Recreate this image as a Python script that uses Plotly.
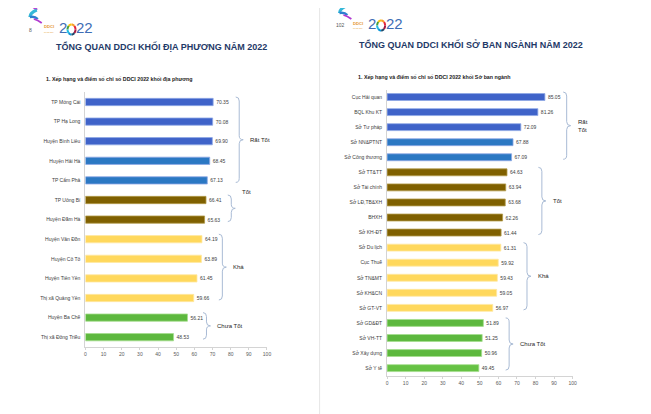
import math
import plotly.graph_objects as go

W, H = 651, 414
OX, OY = 8, 8  # page body margin of the html page

# ---------------- DATA ----------------
left_names = ["TP Móng Cái", "TP Hạ Long", "Huyện Bình Liêu", "Huyện Hải Hà", "TP Cẩm Phả",
              "TP Uông Bí", "Huyện Đầm Hà",
              "Huyện Vân Đồn", "Huyện Cô Tô", "Huyện Tiên Yên", "Thị xã Quảng Yên",
              "Huyện Ba Chẽ", "Thị xã Đông Triều"]
left_scores = [70.35, 70.08, 69.90, 68.45, 67.13, 66.41, 65.63, 64.19, 63.89, 61.45, 59.66, 56.21, 48.53]
left_groups = ["Rất Tốt"] * 5 + ["Tốt"] * 2 + ["Khá"] * 4 + ["Chưa Tốt"] * 2

right_names = ["Cục Hải quan", "BQL Khu KT", "Sở Tư pháp", "Sở NN&PTNT", "Sở Công thương",
               "Sở TT&TT", "Sở Tài chính", "Sở LĐ,TB&XH", "BHXH", "Sở KH-ĐT",
               "Sở Du lịch", "Cục Thuế", "Sở TN&MT", "Sở KH&CN", "Sở GT-VT",
               "Sở GD&ĐT", "Sở VH-TT", "Sở Xây dựng", "Sở Y tế"]
right_scores = [85.05, 81.26, 72.09, 67.88, 67.09, 64.63, 63.94, 63.68, 62.26, 61.44,
                61.31, 59.92, 59.43, 59.05, 56.97, 51.89, 51.25, 50.96, 49.45]
right_groups = ["Rất Tốt"] * 5 + ["Tốt"] * 5 + ["Khá"] * 5 + ["Chưa Tốt"] * 4

group_order = ["Rất Tốt", "Tốt", "Khá", "Chưa Tốt"]
x_ticks = list(range(0, 101, 10))

left_title = "TỔNG QUAN DDCI KHỐI ĐỊA PHƯƠNG NĂM 2022"
left_subtitle = "1. Xếp hạng và điểm số chỉ số DDCI 2022 khối địa phương"
right_title = "TỔNG QUAN DDCI KHỐI SỞ BAN NGÀNH NĂM 2022"
right_subtitle = "1. Xếp hạng và điểm số chỉ số DDCI 2022 khối Sở ban ngành"
left_page = "8"
right_page = "102"

# ---------------- STYLE ----------------
FONT = "Arial, Liberation Sans, sans-serif"
group_colors = {"Rất Tốt": ("#3F63C9", "#2B78C3"), "Tốt": ("#7F6000", "#7F6000"),
                "Khá": ("#FFD85C", "#FFD85C"), "Chưa Tốt": ("#5DB83E", "#66C244")}
edge_colors = {"Rất Tốt": "#8FA8E6", "Tốt": "#B29B4A", "Khá": "#FFE9A3", "Chưa Tốt": "#A6DE8E"}
BRACE_COL = "#A9BBD5"
TITLE_COL = "#1F3A68"

# chart geometry in (reference) pixels: x of 0, x of 100, top of category band, step
geo = {
    "left": dict(x0=85, x1=268, top=92.2, step=19.6, bw=0.37),
    "right": dict(x0=389, x1=576, top=89.5, step=15.06, bw=0.46),
}
# bracket x (px), label dy
brace_left = {"Rất Tốt": (240, 0), "Tốt": (232, -16), "Khá": (223, 0), "Chưa Tốt": (207, 0)}
brace_right = {"Rất Tốt": (570, 0), "Tốt": (545, 0), "Khá": (530, 0), "Chưa Tốt": (512, 0)}


def P(x, y):
    return (x - OX) / W, 1 - (y - OY) / H


def bar_colors(groups):
    cols, edges, seen = [], [], {}
    for g in groups:
        k = seen.get(g, 0)
        seen[g] = k + 1
        cols.append(group_colors[g][0] if k < 3 else group_colors[g][1])
        edges.append(edge_colors[g])
    return cols, edges


fig = go.Figure()
shapes, annos = [], []


def add_chart(names, scores, groups, g, xa, ya, braces, two_line_first):
    n = len(names)
    cols, edges = bar_colors(groups)
    fig.add_trace(go.Bar(
        x=scores, y=names, orientation="h", xaxis=xa, yaxis=ya,
        marker=dict(color=cols, line=dict(color=edges, width=0.8)),
        width=g["bw"], text=[f"{v:.2f}" for v in scores], textposition="outside",
        textfont=dict(size=5, color="#404040", family=FONT), cliponaxis=False,
        hoverinfo="skip", showlegend=False))
    bot = g["top"] + n * g["step"]
    xa0, _ = P(g["x0"], 0)
    xa1, _ = P(g["x1"], 0)
    _, yb = P(0, bot)
    _, yt = P(0, g["top"])
    axis_x = dict(domain=[xa0, xa1], range=[0, 100], tickvals=x_ticks, showline=True,
                  linecolor="#D4D4D4", linewidth=1, ticks="outside", ticklen=2, tickcolor="#D4D4D4",
                  tickfont=dict(size=5, color="#595959", family=FONT), showgrid=False,
                  zeroline=False, fixedrange=True, anchor=ya)
    axis_y = dict(domain=[yb, yt], type="category", categoryorder="array", categoryarray=names,
                  range=[n - 0.5, -0.5], showline=True, linecolor="#D4D4D4", linewidth=1,
                  ticks="", tickfont=dict(size=5, color="#404040", family=FONT),
                  showgrid=False, zeroline=False, fixedrange=True, ticklabelstandoff=3, anchor=xa)
    fig.update_layout(**{xa.replace("x", "xaxis"): axis_x, ya.replace("y", "yaxis"): axis_y})

    # brackets
    for grp in group_order:
        idx = [i for i, gg in enumerate(groups) if gg == grp]
        c_top = g["top"] + (idx[0] + 0.5) * g["step"]
        c_bot = g["top"] + (idx[-1] + 0.5) * g["step"]
        yt_, yb_ = c_top - 5, c_bot + 2
        xp, ldy = braces[grp]
        mid = (yt_ + yb_) / 2
        w, r, tip = 3.5, 4, 4
        pts = [("M", [(xp - w, yt_)]), ("Q", [(xp, yt_), (xp, yt_ + r)]), ("L", [(xp, mid - r)]),
               ("Q", [(xp, mid), (xp + tip, mid)]), ("Q", [(xp, mid), (xp, mid + r)]),
               ("L", [(xp, yb_ - r)]), ("Q", [(xp, yb_), (xp - w, yb_)])]
        path = " ".join(c + " " + " ".join("%.5f,%.5f" % P(*p) for p in ps) for c, ps in pts)
        shapes.append(dict(type="path", path=path, xref="paper", yref="paper",
                           line=dict(color=BRACE_COL, width=1)))
        label = "Rất<br>Tốt" if (two_line_first and grp == "Rất Tốt") else grp
        lx, ly = P(xp + 9, mid + ldy)
        annos.append(dict(text=label, x=lx, y=ly, xref="paper", yref="paper", xanchor="left",
                          yanchor="middle", showarrow=False, align="left",
                          font=dict(size=6, color="#262626", family=FONT)))


add_chart(left_names, left_scores, left_groups, geo["left"], "x", "y", brace_left, False)
add_chart(right_names, right_scores, right_groups, geo["right"], "x2", "y2", brace_right, True)


def text(t, x, y, size, color, anchor="left", bold=False, pad=1):
    px, py = P(x, y)
    annos.append(dict(text=("<b>%s</b>" % t) if bold else t, x=px, y=py, xref="paper", yref="paper",
                      xanchor=anchor, yanchor="middle", showarrow=False, borderpad=pad,
                      font=dict(size=size, color=color, family=FONT)))


text(left_title, 162, 47, 9.0, TITLE_COL, "center", True)
text(right_title, 474, 45, 9.0, TITLE_COL, "center", True)
text(left_subtitle, 43, 79, 5.3, "#1a1a1a", "left", True)
text(right_subtitle, 358, 77, 5.3, "#1a1a1a", "left", True)
text(left_page, 30, 30, 5, "#555555", "center")
text(right_page, 342, 25, 5, "#555555", "center")


def logo(dx, dy):
    text("DDCI", 42 + dx, 27 + dy, 4.2, "#E59A2E", "left", True, 0)
    text("QUẢNG NINH", 42 + dx, 32 + dy, 1.5, "#E59A2E", "left", False, 0)
    text("2", 62 + dx, 28 + dy, 15, "#3E6DB5", "center", False, 0)
    text("22", 84 + dx, 28 + dy, 15, "#3E6DB5", "center", False, 0)
    cx, cy, rr = 71 + dx, 29.5 + dy, 4.0
    ring = ["#E5243B", "#F89D2A", "#FCC30B", "#4C9F38", "#26BDE2", "#0A97D9", "#19486A", "#A21942"]
    for k, col in enumerate(ring):
        a0 = 2 * math.pi * k / len(ring)
        a1 = 2 * math.pi * (k + 1) / len(ring)
        ptsr = [(cx + rr * math.cos(a0 + (a1 - a0) * t / 4), cy - rr * 1.25 * math.sin(a0 + (a1 - a0) * t / 4))
                for t in range(5)]
        path = "M " + " L ".join("%.5f,%.5f" % P(*p) for p in ptsr)
        shapes.append(dict(type="path", path=path, xref="paper", yref="paper",
                           line=dict(color=col, width=2)))
    sw = [("#C23BD4", [(20, 4), (30, 3), (36, 10)], 2.6),
          ("#35B8D8", [(36, 10), (29, 13), (29, 17)], 3.0),
          ("#2F7FD0", [(29, 17), (34, 16), (37, 19)], 2.4),
          ("#B03AD0", [(33, 19), (37, 20), (41, 23)], 1.8)]
    for col, (a, b, c), wd in sw:
        path = "M %.5f,%.5f Q %.5f,%.5f %.5f,%.5f" % (*P(a[0] + dx, a[1] + dy), *P(b[0] + dx, b[1] + dy),
                                                       *P(c[0] + dx, c[1] + dy))
        shapes.append(dict(type="path", path=path, xref="paper", yref="paper",
                           line=dict(color=col, width=wd)))


logo(0, 0)
logo(312, -4)

for (x0, y0, x1, y1) in [(8, 2.5, 310, 2.5), (321, 2.5, 651, 2.5), (321, 2.5, 321, 414)]:
    a, b = P(x0, y0)
    c, d = P(x1, y1)
    shapes.append(dict(type="line", x0=a, y0=b, x1=c, y1=d, xref="paper", yref="paper",
                       line=dict(color="#E6E6E6", width=1)))

fig.update_layout(width=W, height=H, margin=dict(l=0, r=0, t=0, b=0),
                  paper_bgcolor="white", plot_bgcolor="rgba(0,0,0,0)",
                  shapes=shapes, annotations=annos,
                  font=dict(family=FONT))
fig.write_html("out.html")
